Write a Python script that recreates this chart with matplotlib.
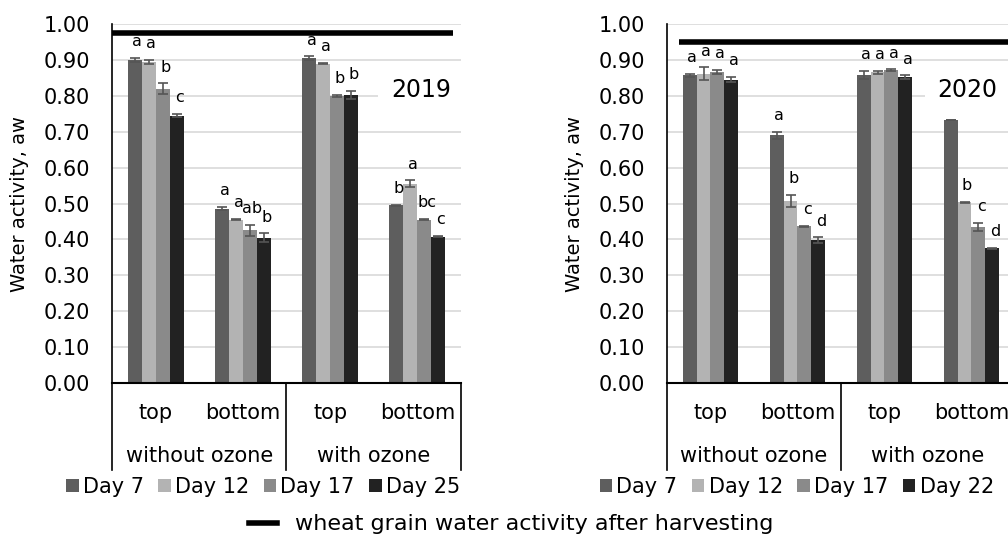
import numpy as np
import matplotlib
matplotlib.use('Agg')
import matplotlib.pyplot as plt
from matplotlib.lines import Line2D

plt.rcParams['font.family'] = ['DejaVu Sans']

positions = ['top', 'bottom', 'top', 'bottom']
treatments = ['without ozone', 'with ozone']
harvest_label = 'wheat grain water activity after harvesting'

# 2019 ##################################################################
days_2019 = ['Day 7', 'Day 12', 'Day 17', 'Day 25']
aw_2019 = [
    [0.900, 0.486, 0.905, 0.495],
    [0.895, 0.455, 0.890, 0.555],
    [0.820, 0.425, 0.800, 0.455],
    [0.745, 0.405, 0.802, 0.408],
]
err_2019 = [
    [0.005, 0.005, 0.005, 0.002],
    [0.005, 0.002, 0.002, 0.010],
    [0.015, 0.015, 0.002, 0.002],
    [0.005, 0.012, 0.012, 0.002],
]
letters_2019 = [
    ['a', 'a', 'a', 'b'],
    ['a', 'a', 'a', 'a'],
    ['b', 'ab', 'b', 'bc'],
    ['c', 'b', 'b', 'c'],
]
harvest_2019 = 0.975

# 2020 ##################################################################
days_2020 = ['Day 7', 'Day 12', 'Day 17', 'Day 22']
aw_2020 = [
    [0.857, 0.690, 0.858, 0.733],
    [0.862, 0.508, 0.866, 0.503],
    [0.866, 0.436, 0.871, 0.435],
    [0.845, 0.398, 0.852, 0.375],
]
err_2020 = [
    [0.005, 0.010, 0.011, 0.001],
    [0.017, 0.017, 0.004, 0.002],
    [0.006, 0.002, 0.003, 0.011],
    [0.007, 0.008, 0.005, 0.002],
]
letters_2020 = [
    ['a', 'a', 'a', ''],
    ['a', 'b', 'a', 'b'],
    ['a', 'c', 'a', 'c'],
    ['a', 'd', 'a', 'd'],
]
harvest_2020 = 0.950

colors = ['#5e5e5e', '#b3b3b3', '#8a8a8a', '#222222']
bar_w = 0.16
FS = 15


def draw_panel(ax, days, aw, err, letters, harvest, year, hx, legend_x):
    x = np.arange(len(positions))
    for i, day in enumerate(days):
        xs = x + (i - 1.5) * bar_w
        ax.bar(xs, aw[i], bar_w, color=colors[i], label=day, zorder=2)
        ax.errorbar(xs, aw[i], yerr=err[i], fmt='none', ecolor='#555555',
                    elinewidth=1.2, capsize=3.5, capthick=1.2, zorder=3)
        for xx, v, e, t in zip(xs, aw[i], err[i], letters[i]):
            ax.text(xx + 0.03, v + e + 0.045, t, ha='center', va='center',
                    fontsize=11.5, zorder=4)

    ax.hlines(harvest, hx[0], hx[1], color='black', linewidth=4, zorder=4)

    ax.set_xlim(-0.5, 3.5)
    ax.set_ylim(0, 1.0)
    ax.set_yticks(np.arange(0, 1.01, 0.1))
    ax.set_yticklabels(['%.2f' % v for v in np.arange(0, 1.01, 0.1)], fontsize=FS)
    ax.tick_params(axis='y', length=0, pad=16)
    ax.set_xticks([])
    ax.grid(axis='y', color='#d9d9d9', linewidth=1.2, zorder=0)
    ax.set_axisbelow(True)
    for s in ['top', 'right']:
        ax.spines[s].set_visible(False)
    ax.spines['left'].set_linewidth(1.2)
    ax.spines['bottom'].set_linewidth(1.5)
    ax.set_ylabel('Water activity, aw', fontsize=14, labelpad=10)

    ax.text(hx[2], 0.815, year, ha='center', va='center', fontsize=17,
            bbox=dict(facecolor='white', edgecolor='none', pad=9), zorder=3)

    # multi-level category axis
    tr = ax.get_xaxis_transform()
    for xb in [-0.5, 1.5, 3.5]:
        ax.plot([xb, xb], [0, -0.242], color='black', linewidth=1.2,
                transform=tr, clip_on=False)
    for xi, p in zip(x, positions):
        ax.text(xi, -0.084, p, ha='center', va='center', fontsize=FS, transform=tr)
    for xi, t in zip([0.5, 2.5], treatments):
        ax.text(xi, -0.203, t, ha='center', va='center', fontsize=FS, transform=tr)

    ax.legend(loc='center', bbox_to_anchor=(legend_x, -0.29), ncol=4, frameon=False,
              fontsize=FS, handlelength=0.6, handleheight=0.6, handletextpad=0.2,
              columnspacing=0.7, borderaxespad=0)


fig = plt.figure(figsize=(10.08, 5.35), dpi=100)
ax1 = fig.add_axes([0.1111, 0.2841, 0.3462, 0.671])
ax2 = fig.add_axes([0.6617, 0.2841, 0.3452, 0.671])

draw_panel(ax1, days_2019, aw_2019, err_2019, letters_2019, harvest_2019, '2019',
           (-0.5, 3.41, 3.04), 0.433)
draw_panel(ax2, days_2020, aw_2020, err_2020, letters_2020, harvest_2020, '2020',
           (-0.36, 3.6, 2.95), 0.373)

h = Line2D([], [], color='black', linewidth=4)
fig.legend([h], [harvest_label], loc='center', bbox_to_anchor=(0.507, 0.02),
           frameon=False, fontsize=16, handlelength=1.3, handletextpad=0.8)

plt.savefig('out.png', dpi=100)
